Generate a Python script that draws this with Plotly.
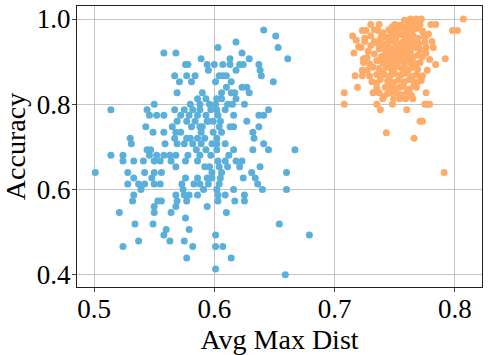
import plotly.graph_objects as go

# blue cluster (row by row)
blue_x = [0.641, 0.651, 0.653, 0.661, 0.618, 0.603, 0.558, 0.568, 0.623, 0.589,
          0.613, 0.629, 0.576, 0.578, 0.594, 0.600, 0.607, 0.621, 0.624, 0.637,
          0.595, 0.613, 0.618, 0.638, 0.567, 0.577, 0.584, 0.604, 0.607, 0.610,
          0.639, 0.571, 0.581, 0.601, 0.614, 0.649, 0.610, 0.623, 0.627, 0.569,
          0.590, 0.606, 0.614, 0.617, 0.629, 0.586, 0.593, 0.602, 0.606, 0.618,
          0.550, 0.580, 0.588, 0.596, 0.601, 0.611, 0.615, 0.625, 0.514, 0.544,
          0.567, 0.575, 0.582, 0.588, 0.597, 0.602, 0.609, 0.645, 0.546, 0.552,
          0.558, 0.572, 0.579, 0.586, 0.593, 0.603, 0.616, 0.637, 0.641, 0.569,
          0.577, 0.584, 0.594, 0.599, 0.605, 0.627, 0.543, 0.565, 0.581, 0.588,
          0.604, 0.613, 0.616, 0.637, 0.549, 0.558, 0.568, 0.572, 0.589, 0.599,
          0.606, 0.632, 0.530, 0.567, 0.577, 0.586, 0.592, 0.602, 0.633, 0.531,
          0.559, 0.569, 0.575, 0.582, 0.589, 0.602, 0.609, 0.641, 0.544, 0.547,
          0.593, 0.602, 0.616, 0.632, 0.645, 0.667, 0.514, 0.524, 0.546, 0.552,
          0.558, 0.563, 0.568, 0.578, 0.588, 0.597, 0.612, 0.524, 0.533, 0.541,
          0.550, 0.555, 0.564, 0.576, 0.586, 0.603, 0.609, 0.618, 0.623, 0.568,
          0.596, 0.604, 0.611, 0.621, 0.638, 0.501, 0.528, 0.542, 0.550, 0.556,
          0.598, 0.606, 0.660, 0.533, 0.548, 0.576, 0.586, 0.594, 0.598, 0.605,
          0.624, 0.631, 0.634, 0.528, 0.537, 0.542, 0.550, 0.555, 0.573, 0.583,
          0.588, 0.595, 0.604, 0.636, 0.539, 0.574, 0.591, 0.602, 0.616, 0.640,
          0.660, 0.533, 0.568, 0.575, 0.579, 0.586, 0.603, 0.609, 0.625, 0.532,
          0.553, 0.556, 0.569, 0.577, 0.603, 0.617, 0.625, 0.550, 0.568, 0.594,
          0.521, 0.550, 0.564, 0.610, 0.534, 0.549, 0.654, 0.576, 0.560, 0.579,
          0.558, 0.601, 0.679, 0.537, 0.563, 0.575, 0.524, 0.582, 0.601, 0.607,
          0.577, 0.614, 0.601, 0.659, 0.595, 0.590, 0.598, 0.580, 0.585, 0.592]
blue_y = [0.974, 0.960, 0.933, 0.907, 0.946, 0.933, 0.920, 0.920, 0.920, 0.907,
          0.907, 0.907, 0.893, 0.893, 0.893, 0.893, 0.893, 0.893, 0.893, 0.893,
          0.880, 0.893, 0.880, 0.880, 0.867, 0.867, 0.867, 0.867, 0.867, 0.867,
          0.867, 0.853, 0.853, 0.853, 0.853, 0.853, 0.840, 0.840, 0.840, 0.827,
          0.827, 0.827, 0.827, 0.827, 0.827, 0.813, 0.813, 0.813, 0.813, 0.813,
          0.800, 0.800, 0.800, 0.800, 0.800, 0.800, 0.800, 0.800, 0.787, 0.787,
          0.787, 0.787, 0.787, 0.787, 0.787, 0.787, 0.787, 0.787, 0.774, 0.774,
          0.774, 0.774, 0.774, 0.774, 0.774, 0.774, 0.774, 0.774, 0.774, 0.760,
          0.760, 0.760, 0.760, 0.760, 0.760, 0.760, 0.747, 0.747, 0.747, 0.747,
          0.747, 0.747, 0.747, 0.747, 0.734, 0.734, 0.734, 0.734, 0.734, 0.734,
          0.734, 0.734, 0.720, 0.720, 0.720, 0.720, 0.720, 0.720, 0.720, 0.707,
          0.707, 0.707, 0.707, 0.707, 0.707, 0.707, 0.707, 0.707, 0.693, 0.693,
          0.693, 0.693, 0.693, 0.693, 0.693, 0.693, 0.680, 0.680, 0.680, 0.680,
          0.680, 0.680, 0.680, 0.680, 0.680, 0.680, 0.680, 0.667, 0.667, 0.667,
          0.667, 0.667, 0.667, 0.667, 0.667, 0.667, 0.667, 0.667, 0.667, 0.653,
          0.653, 0.653, 0.653, 0.653, 0.653, 0.640, 0.640, 0.640, 0.640, 0.640,
          0.640, 0.640, 0.640, 0.627, 0.627, 0.627, 0.627, 0.627, 0.627, 0.627,
          0.627, 0.640, 0.627, 0.613, 0.613, 0.613, 0.613, 0.613, 0.613, 0.613,
          0.613, 0.613, 0.613, 0.613, 0.600, 0.600, 0.600, 0.600, 0.600, 0.600,
          0.600, 0.587, 0.587, 0.587, 0.587, 0.587, 0.587, 0.587, 0.587, 0.573,
          0.573, 0.573, 0.573, 0.573, 0.573, 0.573, 0.573, 0.560, 0.560, 0.560,
          0.546, 0.546, 0.546, 0.546, 0.519, 0.519, 0.519, 0.533, 0.506, 0.506,
          0.493, 0.493, 0.493, 0.479, 0.479, 0.479, 0.466, 0.466, 0.466, 0.466,
          0.439, 0.439, 0.413, 0.400, 0.760, 0.747, 0.707, 0.720, 0.693, 0.653]

# orange cluster: outliers first, then the dense core
orange_x = [0.807, 0.798, 0.802, 0.792, 0.784, 0.715, 0.716, 0.717, 0.719, 0.708,
            0.708, 0.738, 0.735, 0.748, 0.760, 0.771, 0.773, 0.743, 0.766, 0.791,
            0.776, 0.775, 0.779, 0.777, 0.730, 0.737, 0.750, 0.763, 0.768, 0.772,
            0.762, 0.771, 0.780, 0.784, 0.723, 0.726, 0.736, 0.730, 0.776, 0.725,
            0.733, 0.781, 0.722, 0.782, 0.776, 0.724, 0.723, 0.777, 0.723, 0.731,
            0.769, 0.773, 0.732, 0.737, 0.740, 0.749, 0.754, 0.759, 0.765, 0.762,
            0.746, 0.751, 0.754, 0.746, 0.768, 0.742,
            0.758, 0.762, 0.766, 0.770, 0.755, 0.748,
            0.745, 0.752, 0.759, 0.764, 0.768, 0.740, 0.773, 0.733,
            0.742, 0.747, 0.751, 0.756, 0.760, 0.765, 0.769, 0.774, 0.738, 0.778,
            0.744, 0.749, 0.753, 0.757, 0.762, 0.766, 0.770, 0.740, 0.735, 0.775, 0.730,
            0.746, 0.750, 0.755, 0.759, 0.763, 0.767, 0.742, 0.771, 0.737, 0.728, 0.776,
            0.744, 0.748, 0.752, 0.757, 0.761, 0.765, 0.769, 0.739, 0.733, 0.773, 0.727, 0.779,
            0.745, 0.750, 0.754, 0.758, 0.763, 0.767, 0.740, 0.735, 0.771, 0.729, 0.724,
            0.743, 0.748, 0.752, 0.756, 0.761, 0.765, 0.737, 0.732, 0.769, 0.727,
            0.741, 0.746, 0.750, 0.755, 0.759, 0.764, 0.735, 0.768, 0.772, 0.729,
            0.744, 0.749, 0.753, 0.758, 0.762, 0.738, 0.766, 0.735, 0.772,
            0.747, 0.751, 0.757, 0.762, 0.735, 0.766,
            0.744, 0.755, 0.760, 0.741, 0.764, 0.725, 0.720, 0.718,
            0.753, 0.757, 0.761, 0.765, 0.749, 0.747, 0.754, 0.760, 0.764, 0.768,
            0.744, 0.751, 0.756, 0.761, 0.766, 0.748, 0.753, 0.758, 0.763, 0.743,
            0.750, 0.756, 0.762, 0.746, 0.752, 0.758, 0.764, 0.740, 0.748, 0.739]
orange_y = [1.000, 0.973, 0.973, 0.907, 0.893, 0.960, 0.920, 0.867, 0.840, 0.827,
            0.800, 0.787, 0.800, 0.800, 0.787, 0.760, 0.760, 0.733, 0.720, 0.640,
            0.827, 0.800, 0.800, 0.800, 0.987, 0.987, 0.987, 1.000, 1.000, 1.000,
            0.987, 0.987, 0.987, 0.987, 0.973, 0.973, 0.973, 0.960, 0.960, 0.947,
            0.947, 0.947, 0.933, 0.933, 0.920, 0.907, 0.880, 0.880, 0.867, 0.853,
            0.853, 0.867, 0.827, 0.827, 0.813, 0.813, 0.813, 0.813, 0.813, 0.827,
            0.827, 0.827, 0.840, 0.853, 0.840, 0.840,
            0.997, 0.993, 0.998, 0.990, 0.985, 0.982,
            0.975, 0.972, 0.977, 0.970, 0.978, 0.968, 0.972, 0.975,
            0.958, 0.962, 0.955, 0.963, 0.958, 0.962, 0.955, 0.960, 0.952, 0.965,
            0.945, 0.948, 0.942, 0.947, 0.944, 0.949, 0.941, 0.940, 0.944, 0.946, 0.938,
            0.932, 0.928, 0.934, 0.930, 0.926, 0.933, 0.925, 0.928, 0.930, 0.925, 0.934,
            0.915, 0.911, 0.918, 0.913, 0.917, 0.910, 0.915, 0.912, 0.918, 0.912, 0.910, 0.905,
            0.900, 0.896, 0.903, 0.898, 0.901, 0.895, 0.897, 0.902, 0.898, 0.895, 0.898,
            0.886, 0.882, 0.888, 0.884, 0.880, 0.887, 0.884, 0.887, 0.882, 0.880,
            0.870, 0.866, 0.872, 0.868, 0.873, 0.865, 0.870, 0.870, 0.863, 0.866,
            0.855, 0.851, 0.857, 0.853, 0.858, 0.858, 0.852, 0.850, 0.856,
            0.840, 0.836, 0.842, 0.835, 0.838, 0.843,
            0.825, 0.822, 0.828, 0.818, 0.820, 0.955, 0.935, 0.950,
            0.985, 0.980, 0.983, 0.985, 0.968, 0.952, 0.966, 0.967, 0.954, 0.948,
            0.936, 0.937, 0.939, 0.935, 0.938, 0.921, 0.922, 0.923, 0.920, 0.906,
            0.907, 0.906, 0.908, 0.891, 0.892, 0.890, 0.893, 0.876, 0.877, 0.962]

x_ticks = [0.5, 0.6, 0.7, 0.8]
y_ticks = [0.4, 0.6, 0.8, 1.0]

fig = go.Figure()
fig.add_trace(go.Scatter(x=blue_x, y=blue_y, mode="markers",
                         marker=dict(color="#5aafdb", size=7, line=dict(width=0))))
fig.add_trace(go.Scatter(x=orange_x, y=orange_y, mode="markers",
                         marker=dict(color="#ffab68", size=7, line=dict(width=0))))

axis_style = dict(showgrid=True, gridcolor="#c4c4c4", gridwidth=1,
                  showline=True, linecolor="#222", linewidth=1, mirror=True,
                  ticks="outside", ticklen=4, tickcolor="#444", automargin=False,
                  tickfont=dict(size=27, color="black"), zeroline=False)

fig.update_layout(
    width=489, height=355,
    margin=dict(l=77, r=7, t=6, b=68),
    paper_bgcolor="white", plot_bgcolor="white",
    font=dict(family="Liberation Serif", color="black"),
    showlegend=False,
)
fig.update_xaxes(range=[0.4858, 0.8225], tickvals=x_ticks, ticktext=[str(v) for v in x_ticks],
                 ticklabelstandoff=-6,
                 title=dict(text="Avg Max Dist", font=dict(size=28), standoff=1), **axis_style)
fig.update_yaxes(range=[0.371, 1.0306], tickvals=y_ticks, ticktext=["%.1f" % v for v in y_ticks],
                 ticklabelstandoff=-4,
                 title=dict(text="Accuracy", font=dict(size=28), standoff=3), **axis_style)

# drop the default page margin so the figure sits at the top-left corner
fig.write_html("out.html", config={"displayModeBar": False},
               post_script="document.body.style.margin='0';")
